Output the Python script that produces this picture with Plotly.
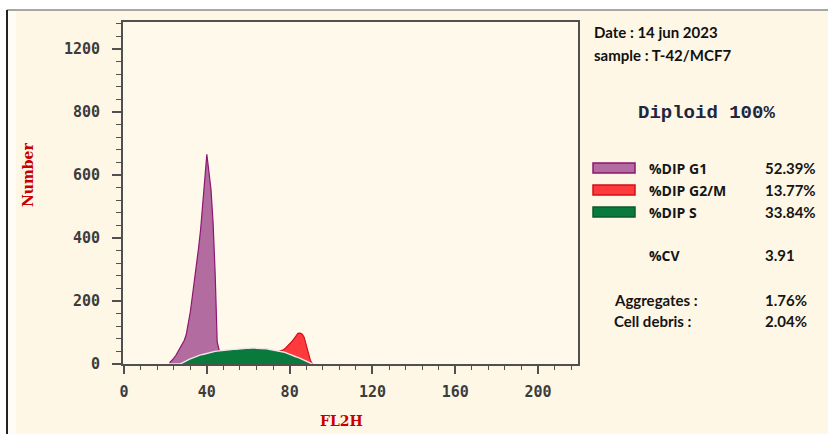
import plotly.graph_objects as go

# ---------------- data ----------------
channels = list(range(22, 92))  # FL2H channels 22..91

s_phase = [0, 0, 0, 0, 0, 0, 3, 7, 10, 13, 16, 19, 22, 25, 27, 29, 30, 32, 33, 35,
           36, 38, 40, 41, 42, 43, 44, 44, 45, 46, 46, 47, 47, 48, 49, 49, 50, 50, 50, 51,
           51, 51, 50, 50, 50, 49, 49, 48, 47, 46, 45, 44, 42, 41, 40, 38, 36, 33, 31, 29,
           26, 23, 21, 18, 15, 12, 10, 7, 4, 0]

g1_phase = [4, 10, 18, 27, 38, 50, 59, 67, 82, 112, 149, 196, 240, 285, 341, 398, 475, 558, 632, 575,
            518, 412, 250, 29, 0, 0, 0, 0, 0, 0, 0, 0, 0, 0, 0, 0, 0, 0, 0, 0,
            0, 0, 0, 0, 0, 0, 0, 0, 0, 0, 0, 0, 0, 0, 0, 0, 0, 0, 0, 0,
            0, 0, 0, 0, 0, 0, 0, 0, 0, 0]

g2_phase = [0, 0, 0, 0, 0, 0, 0, 0, 0, 0, 0, 0, 0, 0, 0, 0, 0, 0, 0, 0,
            0, 0, 0, 0, 0, 0, 0, 0, 0, 0, 0, 0, 0, 0, 0, 0, 0, 0, 0, 0,
            0, 0, 0, 0, 0, 0, 0, 0, 0, 0, 0, 0, 0, 0, 2, 7, 14, 23, 32, 42,
            53, 67, 76, 80, 80, 73, 50, 28, 8, 0]

x_tickvals = [0, 40, 80, 120, 160, 200]
x_ticktext = ["0", "40", "80", "120", "160", "200"]
y_tickvals = [0, 200, 400, 600, 800, 1000]
y_ticktext = ["0", "200", "400", "600", "800", "1200"]

legend_labels = ["%DIP G1", "%DIP G2/M", "%DIP S"]
legend_values = ["52.39%", "13.77%", "33.84%"]
cv_label, cv_value = "%CV", "3.91"
extra_labels = ["Aggregates :", "Cell debris :"]
extra_values = ["1.76%", "2.04%"]

# ---------------- styles ----------------
PURPLE_FILL, PURPLE_LINE = "#B26C9F", "#8E1670"
RED_FILL, RED_LINE = "#FF3A3C", "#D0101A"
GREEN_FILL, GREEN_LINE = "#0A7A3C", "#F3E3EA"
AXIS = "#505050"
PAPER = "#FEF7E6"
PLOT = "#FFF9EC"

W, H = 828, 434
L, R, T, B = 123, 578, 22, 364


def pxx(x):
    return (x - L) / (R - L)


def pxy(y):
    return (B - y) / (B - T)


def stacked(comp):
    idx = [i for i, v in enumerate(comp) if v > 0]
    lo, hi = max(idx[0] - 1, 0), min(idx[-1] + 1, len(comp) - 1)
    xs = channels[lo:hi + 1]
    ys = [s_phase[i] + comp[i] for i in range(lo, hi + 1)]
    return xs, ys


fig = go.Figure()

gx, gy = stacked(g1_phase)
fig.add_trace(go.Scatter(x=gx, y=gy, mode="lines", fill="tozeroy",
                         fillcolor=PURPLE_FILL, line=dict(color=PURPLE_LINE, width=1.2)))
rx, ry = stacked(g2_phase)
fig.add_trace(go.Scatter(x=rx, y=ry, mode="lines", fill="tozeroy",
                         fillcolor=RED_FILL, line=dict(color=RED_LINE, width=1.2)))
fig.add_trace(go.Scatter(x=channels, y=s_phase, mode="lines", fill="tozeroy",
                         fillcolor=GREEN_FILL, line=dict(color=GREEN_LINE, width=1.4)))

tickfont = dict(family="DejaVu Sans Mono", size=15, color="#3c3c3c", weight="bold")

fig.update_xaxes(range=[-0.5, 219.3], showgrid=False, zeroline=False,
                 showline=True, linecolor=AXIS, linewidth=2, mirror=True,
                 ticks="outside", ticklen=8, tickwidth=1.5, tickcolor=AXIS,
                 tickvals=x_tickvals, ticktext=x_ticktext, tickfont=tickfont,
                 ticklabelstandoff=5,
                 minor=dict(dtick=8, tick0=0, ticks="outside", ticklen=4, tickcolor=AXIS, tickwidth=1.2))
fig.update_yaxes(range=[0, 1085], showgrid=False, zeroline=False,
                 showline=True, linecolor=AXIS, linewidth=2, mirror=True,
                 ticks="outside", ticklen=9, tickwidth=1.5, tickcolor=AXIS,
                 tickvals=y_tickvals, ticktext=y_ticktext, tickfont=tickfont,
                 ticklabelstandoff=9,
                 minor=dict(dtick=40, tick0=0, ticks="outside", ticklen=5, tickcolor=AXIS, tickwidth=1.2))

shapes = []
# white outer frame region
shapes.append(dict(type="rect", xref="paper", yref="paper", x0=pxx(-5), x1=pxx(7), y0=pxy(440), y1=pxy(-5),
                   fillcolor="white", line=dict(width=0), layer="below"))
shapes.append(dict(type="rect", xref="paper", yref="paper", x0=pxx(-5), x1=pxx(835), y0=pxy(10), y1=pxy(-5),
                   fillcolor="white", line=dict(width=0), layer="below"))
shapes.append(dict(type="rect", xref="paper", yref="paper", x0=pxx(8), x1=pxx(16), y0=pxy(440), y1=pxy(11),
                   fillcolor="#FFFCF5", line=dict(width=0), layer="below"))
shapes.append(dict(type="line", xref="paper", yref="paper", x0=pxx(7), x1=pxx(835), y0=pxy(10), y1=pxy(10),
                   line=dict(color="#8a8a8a", width=1.5)))
shapes.append(dict(type="line", xref="paper", yref="paper", x0=pxx(7), x1=pxx(7), y0=pxy(10), y1=pxy(440),
                   line=dict(color="#222222", width=2)))

# legend swatches
sw_fill = [PURPLE_FILL, RED_FILL, GREEN_FILL]
sw_line = [PURPLE_LINE, RED_LINE, "#0B5A2E"]
row_y = [168, 190, 212]
for f, ln, yc in zip(sw_fill, sw_line, row_y):
    shapes.append(dict(type="rect", xref="paper", yref="paper", x0=pxx(593), x1=pxx(635),
                       y0=pxy(yc + 5), y1=pxy(yc - 5), fillcolor=f, line=dict(color=ln, width=1.5)))

ann = []
red_font = dict(family="DejaVu Serif", size=14, color="#C80000", weight="bold")
ann.append(dict(text="Number", x=pxx(28), y=pxy(175), textangle=-90, font=red_font))
ann.append(dict(text="FL2H", x=pxx(341), y=pxy(421), font=red_font))

info_font = dict(family="Lato", size=15, color="#111111", weight="bold")
ann.append(dict(text="Date : 14 jun 2023", x=pxx(592), y=pxy(32), xanchor="left", font=info_font))
ann.append(dict(text="sample : T-42/MCF7", x=pxx(592), y=pxy(55), xanchor="left", font=info_font))
ann.append(dict(text="Diploid 100%", x=pxx(706), y=pxy(113),
                font=dict(family="Liberation Mono", size=19, color="#1E2640", weight="bold")))

leg_font = dict(family="Open Sans", size=14, color="#151515", weight="bold")
val_font = dict(family="Lato", size=15, color="#151515", weight="bold")
for lab, val, yc in zip(legend_labels, legend_values, row_y):
    ann.append(dict(text=lab, x=pxx(647), y=pxy(yc), xanchor="left", font=leg_font))
    ann.append(dict(text=val, x=pxx(763), y=pxy(yc), xanchor="left", font=val_font))
ann.append(dict(text=cv_label, x=pxx(647), y=pxy(255), xanchor="left", font=leg_font))
ann.append(dict(text=cv_value, x=pxx(763), y=pxy(255), xanchor="left", font=val_font))
for lab, val, yc in zip(extra_labels, extra_values, [300, 321]):
    ann.append(dict(text=lab, x=pxx(612), y=pxy(yc), xanchor="left", font=val_font))
    ann.append(dict(text=val, x=pxx(763), y=pxy(yc), xanchor="left", font=val_font))

for a in ann:
    a.update(xref="paper", yref="paper", showarrow=False)
    a.setdefault("yanchor", "middle")
    a.setdefault("xanchor", "center")

fig.update_layout(width=W, height=H, margin=dict(l=L, r=W - R, t=T, b=H - B),
                  paper_bgcolor=PAPER, plot_bgcolor=PLOT, showlegend=False,
                  shapes=shapes, annotations=ann)

fig.write_html("out.html", config={"displayModeBar": False},
               post_script="document.body.style.margin='0px';document.body.style.overflow='hidden';")
